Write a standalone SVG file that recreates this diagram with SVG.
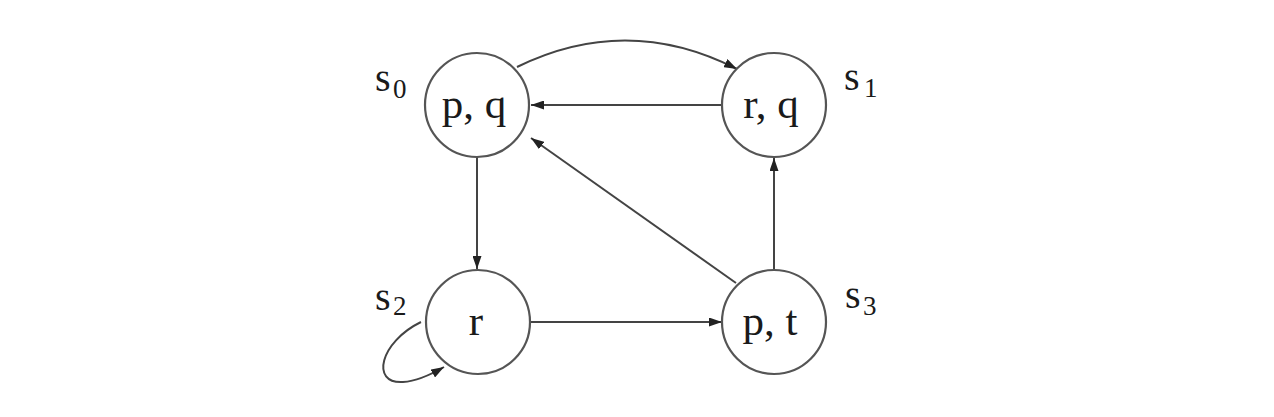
<svg xmlns="http://www.w3.org/2000/svg" width="1274" height="417" viewBox="0 0 1274 417">
<style>
.node circle{fill:#fff;stroke:#555;stroke-width:2.2}
.lbl{font-family:"Liberation Serif",serif;font-size:43px;fill:#1a1a1a;text-anchor:middle}
.st{font-family:"Liberation Serif",serif;font-size:40px;fill:#1a1a1a}
.sub{font-family:"Liberation Serif",serif;font-size:27px;fill:#1a1a1a}
.edges path{fill:none;stroke:#444;stroke-width:2;marker-end:url(#ah)}
</style>
<defs>
<marker id="ah" viewBox="0 0 13 9" refX="13" refY="4.5" markerWidth="13" markerHeight="9" markerUnits="userSpaceOnUse" orient="auto">
<path d="M0,0 L13,4.5 L0,9 Z" fill="#222"/>
</marker>
</defs>
<rect width="1274" height="417" fill="#fff"/>
<g id="connectors" class="edges">
<path d="M517,67 Q627,13 737,69"/>
<path d="M722,105 L531,105"/>
<path d="M736,283 L531,138"/>
<path d="M774,270 L774,158"/>
<path d="M477,157 L477,269"/>
<path d="M531,322 L722,322"/>
<path d="M421,322 C380,342 370,384 403,382 C418,381 432,374 444,367"/>
</g>
<g id="s0" class="node">
<circle cx="477" cy="105" r="52"/>
<text class="lbl" x="474" y="118">p, q</text>
<text class="st" x="375" y="91">s</text><text class="sub" x="393" y="98">0</text>
</g>
<g id="s1" class="node">
<circle cx="774" cy="105" r="52"/>
<text class="lbl" x="771" y="118">r, q</text>
<text class="st" x="844" y="90">s</text><text class="sub" x="864" y="97">1</text>
</g>
<g id="s2" class="node">
<circle cx="478" cy="322" r="52"/>
<text class="lbl" x="476" y="335">r</text>
<text class="st" x="375" y="310">s</text><text class="sub" x="393" y="315">2</text>
</g>
<g id="s3" class="node">
<circle cx="774" cy="322" r="52"/>
<text class="lbl" x="770" y="335">p, t</text>
<text class="st" x="845" y="308">s</text><text class="sub" x="863" y="315">3</text>
</g>
</svg>
